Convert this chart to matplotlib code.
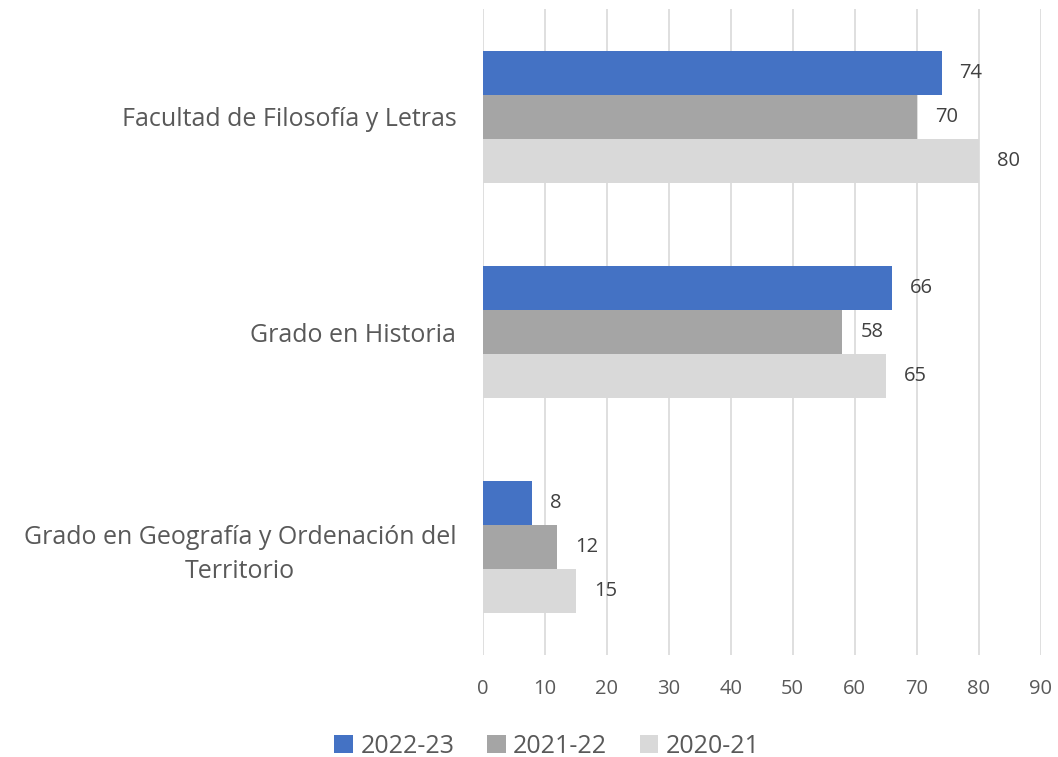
import numpy as np
import matplotlib.pyplot as plt

plt.rcParams['font.family'] = ['Open Sans', 'DejaVu Sans']

categorias = ['Facultad de Filosofía y Letras', 'Grado en Historia',
              'Grado en Geografía y Ordenación del\nTerritorio']
series = ['2022-23', '2021-22', '2020-21']
v_2022_23 = [74, 66, 8]
v_2021_22 = [70, 58, 12]
v_2020_21 = [80, 65, 15]
colores = ['#4472C4', '#A5A5A5', '#D9D9D9']

fig = plt.figure(figsize=(10.58, 7.57), dpi=100)
ax = fig.add_axes([0.4562, 0.1347, 0.5275, 0.8534])

y = np.arange(len(categorias))
h = 0.204
for i, (nombre, vals) in enumerate(zip(series, [v_2022_23, v_2021_22, v_2020_21])):
    bars = ax.barh(y + (i - 1) * h, vals, height=h, color=colores[i], label=nombre, zorder=2)
    for b, v in zip(bars, vals):
        ax.annotate(str(v), (v, b.get_y() + h / 2), xytext=(13, 0), textcoords='offset points',
                    va='center', ha='left', fontsize=14.5, color='#404040')

ax.set_xlim(0, 90)
ax.set_ylim(2.5, -0.5)
ax.set_xticks(range(0, 91, 10))
ax.set_yticks(y)
ax.set_yticklabels(categorias, fontsize=18, color='#595959', multialignment='center',
                   linespacing=1.45)
ax.tick_params(axis='x', labelsize=14.5, labelcolor='#595959', length=0, pad=17)
ax.tick_params(axis='y', length=0, pad=19)
ax.grid(axis='x', color='#D9D9D9', linewidth=1.2, zorder=0)
for s in ax.spines.values():
    s.set_visible(False)

fig.legend(loc='lower center', bbox_to_anchor=(0.517, -0.032), ncol=3, frameon=False,
           fontsize=18, labelcolor='#595959', handlelength=0.75, handleheight=0.75,
           handletextpad=0.3, columnspacing=1.3)

fig.savefig('out.png', dpi=100)
